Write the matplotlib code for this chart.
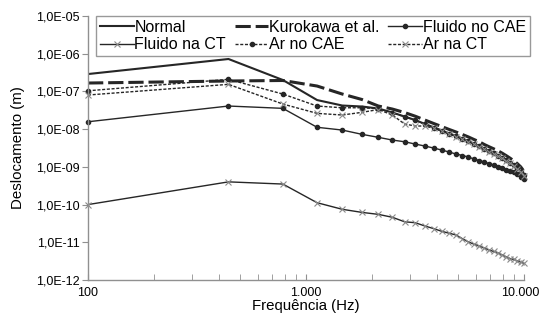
import matplotlib
matplotlib.use("Agg")
import matplotlib.pyplot as plt
import matplotlib.transforms as mtransforms
import numpy as np
from matplotlib.ticker import FixedLocator, FuncFormatter, NullFormatter

plt.rcParams['font.family'] = ['Liberation Sans', 'DejaVu Sans']

# frequências (Hz)
freq = [100, 441, 783, 1124, 1466, 1807, 2148, 2490, 2831, 3172,
        3514, 3855, 4197, 4538, 4879, 5221, 5562, 5903, 6245, 6586,
        6928, 7269, 7610, 7952, 8293, 8634, 8976, 9317, 9659, 10000]

# deslocamentos (m)
normal = [2.89e-7, 7.24e-7, 2.01e-7, 5.91e-8, 4.23e-8, 3.98e-8, 3.52e-8, 2.76e-8, 2.16e-8, 1.74e-8,
          1.37e-8, 1.12e-8, 9.2e-9, 7.7e-9, 6.6e-9, 5.6e-9, 4.8e-9, 4.1e-9, 3.55e-9, 3.05e-9,
          2.6e-9, 2.3e-9, 2.0e-9, 1.76e-9, 1.5e-9, 1.3e-9, 1.12e-9, 9.3e-10, 7.6e-10, 6.0e-10]
kurokawa = [1.67e-7, 1.89e-7, 1.95e-7, 1.39e-7, 8.53e-8, 6.10e-8, 4.10e-8, 3.41e-8, 2.76e-8, 2.2e-8,
            1.74e-8, 1.41e-8, 1.17e-8, 9.8e-9, 8.4e-9, 7.2e-9, 6.2e-9, 5.3e-9, 4.6e-9, 3.9e-9,
            3.4e-9, 3.0e-9, 2.65e-9, 2.3e-9, 1.98e-9, 1.7e-9, 1.45e-9, 1.22e-9, 1.0e-9, 7.6e-10]
fluido_cae = [1.57e-8, 4.10e-8, 3.56e-8, 1.12e-8, 9.46e-9, 7.28e-9, 6.06e-9, 5.14e-9, 4.63e-9, 4.02e-9,
              3.56e-9, 3.15e-9, 2.79e-9, 2.47e-9, 2.19e-9, 2.0e-9, 1.82e-9, 1.61e-9, 1.47e-9, 1.34e-9,
              1.22e-9, 1.12e-9, 1.02e-9, 9.3e-10, 8.5e-10, 7.7e-10, 7.1e-10, 6.3e-10, 5.5e-10, 4.75e-10]
fluido_ct = [1.0e-10, 4.0e-10, 3.5e-10, 1.12e-10, 7.5e-11, 6.2e-11, 5.5e-11, 4.6e-11, 3.5e-11, 3.3e-11,
             2.7e-11, 2.3e-11, 1.95e-11, 1.74e-11, 1.56e-11, 1.24e-11, 1.02e-11, 8.9e-12, 7.9e-12, 7.0e-12,
             6.2e-12, 5.7e-12, 5.2e-12, 4.6e-12, 4.1e-12, 3.7e-12, 3.5e-12, 3.2e-12, 3.0e-12, 2.75e-12]
ar_cae = [1.04e-7, 2.09e-7, 8.53e-8, 4.10e-8, 3.69e-8, 3.69e-8, 3.48e-8, 2.73e-8, 2.13e-8, 1.72e-8,
          1.35e-8, 1.10e-8, 9.1e-9, 7.6e-9, 6.5e-9, 5.55e-9, 4.75e-9, 4.05e-9, 3.5e-9, 3.0e-9,
          2.57e-9, 2.27e-9, 1.97e-9, 1.73e-9, 1.48e-9, 1.28e-9, 1.1e-9, 9.1e-10, 7.5e-10, 5.9e-10]
ar_ct = [8.03e-8, 1.54e-7, 4.63e-8, 2.62e-8, 2.37e-8, 2.79e-8, 3.31e-8, 2.37e-8, 1.37e-8, 1.21e-8,
         1.21e-8, 1.05e-8, 8.8e-9, 7.4e-9, 6.3e-9, 5.4e-9, 4.6e-9, 3.95e-9, 3.4e-9, 2.9e-9,
         2.52e-9, 2.22e-9, 1.92e-9, 1.68e-9, 1.44e-9, 1.24e-9, 1.07e-9, 8.9e-10, 7.3e-10, 5.7e-10]

fig = plt.figure(figsize=(5.39, 3.16), dpi=100)
ax = fig.add_axes([88/539, 1-280/316, (524-88)/539, (280-16)/316])

dark = '#262626'
grey = '#8a8a8a'

ax.plot(freq, normal, color=dark, lw=1.5, label='Normal')
ax.plot(freq, kurokawa, color=dark, lw=2.2, dashes=(5, 1.6), label='Kurokawa et al.')
ax.plot(freq, fluido_cae, color=dark, lw=1.0, marker='o', ms=3, mfc=dark, mec=dark,
        label='Fluido no CAE', clip_on=False)
ax.plot(freq, fluido_ct, color=dark, lw=1.0, marker='x', ms=4, mec=grey, mew=0.8,
        label='Fluido na CT', clip_on=False)
ax.plot(freq, ar_cae, color=dark, lw=1.0, dashes=(2.2, 1.2), marker='o', ms=3, mfc=dark, mec=dark,
        label='Ar no CAE', clip_on=False)
ax.plot(freq, ar_ct, color=dark, lw=1.0, dashes=(2.2, 1.2), marker='x', ms=4, mec=grey, mew=0.8,
        label='Ar na CT', clip_on=False)

ax.set_xscale('log')
ax.set_yscale('log')
ax.set_xlim(100, 10000)
ax.set_ylim(1e-12, 1e-5)

ax.yaxis.set_major_locator(FixedLocator([10.0**k for k in range(-12, -4)]))
ax.yaxis.set_major_formatter(FuncFormatter(lambda v, p: '1,0E-%02d' % int(round(-np.log10(v)))))
ax.yaxis.set_minor_locator(FixedLocator([]))
ax.xaxis.set_major_locator(FixedLocator([100, 1000, 10000]))
ax.xaxis.set_major_formatter(FuncFormatter(lambda v, p: {100: '100', 1000: '1.000', 10000: '10.000'}[int(round(v))]))
ax.xaxis.set_minor_locator(FixedLocator([m * 10**k for k in (2, 3) for m in range(2, 10)]))
ax.xaxis.set_minor_formatter(NullFormatter())

for s in ('top', 'right'):
    ax.spines[s].set_visible(False)
for s in ('left', 'bottom'):
    ax.spines[s].set_color('#909090')
    ax.spines[s].set_linewidth(1.0)

ax.tick_params(axis='y', direction='out', length=4, color='#909090', labelsize=9, pad=2)
ax.tick_params(axis='x', which='both', direction='in', length=4, color='#909090', labelsize=9, pad=5)

ax.set_ylabel('Deslocamento (m)', fontsize=10.8, labelpad=8)
ax.set_xlabel('Frequência (Hz)', fontsize=10.8, labelpad=0)

# último rótulo do eixo x um pouco para a esquerda, para caber na figura
fig.canvas.draw()
last = ax.get_xticklabels()[-1]
last.set_transform(last.get_transform() + mtransforms.ScaledTranslation(-4/100, 0, fig.dpi_scale_trans))

h, l = ax.get_legend_handles_labels()
order = [0, 3, 1, 4, 2, 5]
leg = fig.legend([h[i] for i in order], [l[i] for i in order], ncol=3,
                 loc='upper left', bbox_to_anchor=(96/539, 1-16/316),
                 fontsize=11.5, frameon=True, fancybox=False, edgecolor='#808080',
                 handlelength=2.1, handletextpad=0.05, columnspacing=0.55,
                 labelspacing=0.15, borderpad=0.25, borderaxespad=0)
leg.get_frame().set_linewidth(1.0)

fig.savefig('out.png', dpi=100)
